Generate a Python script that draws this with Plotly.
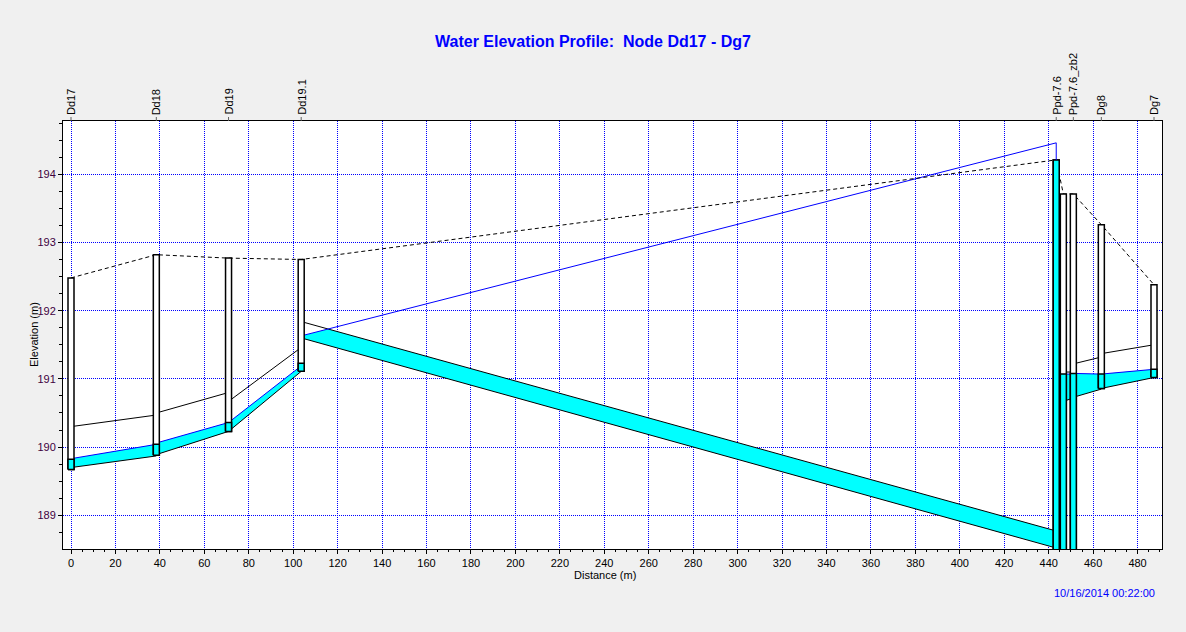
import plotly.graph_objects as go

# ---------------- data ----------------
node_names = ['Dd17', 'Dd18', 'Dd19', 'Dd19.1', 'Ppd-7.6', '', 'Ppd-7.6_zb2', 'Dg8', 'Dg7']
node_dist = [0, 38.4, 70.9, 103.6, 443.4, 446.6, 451.1, 463.7, 487.4]
node_invert = [189.67, 189.88, 190.23, 191.11, 188.3, 188.3, 188.3, 190.86, 191.02]
node_water = [189.82, 190.04, 190.36, 191.23, 194.46, 191.07, 191.08, 191.07, 191.14]
node_rim = [192.48, 192.82, 192.77, 192.75, 194.21, 193.71, 193.71, 193.26, 192.38]

link_from = [0, 1, 2, 3, 5, 6, 7]
link_to = [1, 2, 3, 4, 6, 7, 8]
link_inv_up = [189.70, 189.89, 190.23, 191.60, 190.67, 190.73, 190.86]
link_inv_dn = [189.87, 190.23, 191.11, 188.52, 190.72, 190.85, 191.02]
link_crown_up = [190.30, 190.50, 190.67, 191.84, 191.10, 191.22, 191.37]
link_crown_dn = [190.47, 190.80, 191.46, 188.77, 191.10, 191.32, 191.50]
link_water_up = [189.83, 190.06, 190.36, 191.63, 191.07, 191.08, 191.07]
link_water_dn = [190.04, 190.36, 191.19, 194.46, 191.07, 191.07, 191.14]

x_ticks = list(range(0, 481, 20))
y_ticks = [189, 190, 191, 192, 193, 194]

title_text = 'Water Elevation Profile:\u00a0 Node Dd17 - Dg7'
date_text = '10/16/2014 00:22:00'

# ---------------- style ----------------
FONT = 'Liberation Sans, Arial, sans-serif'
CYAN = '#00ffff'
BLUE = '#0000ff'
HALF_W = 1.35  # node box half width (m)

fig = go.Figure()


def add_poly(xs, ys, fill, lw, lc='black'):
    fig.add_trace(go.Scatter(x=xs, y=ys, mode='lines', fill='toself', fillcolor=fill,
                             line=dict(color=lc, width=lw), hoverinfo='skip', showlegend=False))


def add_line(xs, ys, color, lw, dash=None):
    fig.add_trace(go.Scatter(x=xs, y=ys, mode='lines',
                             line=dict(color=color, width=lw, dash=dash),
                             hoverinfo='skip', showlegend=False))


# link water fills
for k in range(len(link_from)):
    x0 = node_dist[link_from[k]]
    x1 = node_dist[link_to[k]]
    w0, w1 = link_water_up[k], link_water_dn[k]
    c0, c1 = link_crown_up[k], link_crown_dn[k]
    i0, i1 = link_inv_up[k], link_inv_dn[k]
    ts = [0.0, 1.0]
    den = (w1 - w0) - (c1 - c0)
    if den != 0:
        tc = (c0 - w0) / den
        if 0 < tc < 1:
            ts = [0.0, tc, 1.0]
    top_x, top_y = [], []
    for t in ts:
        top_x.append(x0 + t * (x1 - x0))
        top_y.append(min(w0 + t * (w1 - w0), c0 + t * (c1 - c0)))
    px = top_x + [x1, x0]
    py = top_y + [i1, i0]
    add_poly(px, py, CYAN, 0, lc=CYAN)

# link crown / invert lines and water surface
for k in range(len(link_from)):
    x0 = node_dist[link_from[k]]
    x1 = node_dist[link_to[k]]
    add_line([x0, x1], [link_inv_up[k], link_inv_dn[k]], 'black', 1)
    add_line([x0, x1], [link_crown_up[k], link_crown_dn[k]], 'black', 1)
    add_line([x0, x1], [link_water_up[k], link_water_dn[k]], BLUE, 1)

# ground (rim) line
add_line(node_dist, node_rim, 'black', 1, dash='4px,3px')

# node boxes
for i in range(len(node_dist)):
    xl, xr = node_dist[i] - HALF_W, node_dist[i] + HALF_W
    add_poly([xl, xr, xr, xl, xl], [node_invert[i], node_invert[i], node_rim[i], node_rim[i], node_invert[i]],
             'white', 1.5)
    wt = min(node_water[i], node_rim[i])
    add_poly([xl, xr, xr, xl, xl], [node_invert[i], node_invert[i], wt, wt, node_invert[i]], CYAN, 1.5)
    if node_water[i] > node_rim[i]:
        add_line([node_dist[i], node_dist[i]], [node_rim[i], node_water[i]], BLUE, 1)

# node labels on top
for i, name in enumerate(node_names):
    if not name:
        continue
    fig.add_shape(type='line', xref='x', yref='paper', x0=node_dist[i], x1=node_dist[i],
                  y0=1, y1=1 + 4 / 428, line=dict(color='#606060', width=1))
    fig.add_annotation(text=name, x=node_dist[i], xref='x', y=1, yref='paper', yshift=4,
                       textangle=-90, xanchor='center', yanchor='bottom', showarrow=False,
                       font=dict(family=FONT, size=11, color='black'))

# axis titles and date
fig.add_annotation(text='Distance (m)', x=(605 - 63) / 1099, xref='paper', y=(549 - 575) / 428, yref='paper',
                   xanchor='center', yanchor='middle', showarrow=False,
                   font=dict(family=FONT, size=11, color='black'))
fig.add_annotation(text='Elevation (m)', x=(34 - 63) / 1099, xref='paper', y=0.5, yref='paper',
                   xanchor='center', yanchor='middle', textangle=-90, showarrow=False,
                   font=dict(family=FONT, size=11, color='black'))
fig.add_annotation(text=date_text, x=(1157 - 63) / 1099, xref='paper', y=(549 - 593) / 428, yref='paper',
                   xanchor='right', yanchor='middle', showarrow=False,
                   font=dict(family=FONT, size=11, color=BLUE))

grid = dict(showgrid=True, gridcolor=BLUE, gridwidth=1, griddash='1px,1px', zeroline=False,
            showline=True, linecolor='black', linewidth=1, mirror=True,
            ticks='outside', tickcolor='black', ticklen=4)

fig.update_layout(
    width=1186, height=632,
    margin=dict(l=63, r=24, t=121, b=83),
    paper_bgcolor='#f0f0f0', plot_bgcolor='white',
    showlegend=False,
    title=dict(text=title_text, x=0.5, xref='container', xanchor='center',
               y=1 - 41 / 632, yref='container', yanchor='middle',
               font=dict(family=FONT, size=16, color=BLUE, weight='bold')),
    xaxis=dict(range=[-3.6, 491.0], tickvals=x_ticks, ticktext=[str(v) for v in x_ticks],
               tickfont=dict(family=FONT, size=11, color='black'),
               minor=dict(dtick=5, tick0=0, ticks='outside', ticklen=2, tickcolor='black', showgrid=False),
               **grid),
    yaxis=dict(range=[188.506, 194.78], tickvals=y_ticks, ticktext=[str(v) for v in y_ticks],
               tickfont=dict(family=FONT, size=11, color='#400040'),
               minor=dict(dtick=0.25, tick0=189, ticks='outside', ticklen=3, tickcolor='black', showgrid=False),
               **grid),
)

fig.write_html('out.html')
